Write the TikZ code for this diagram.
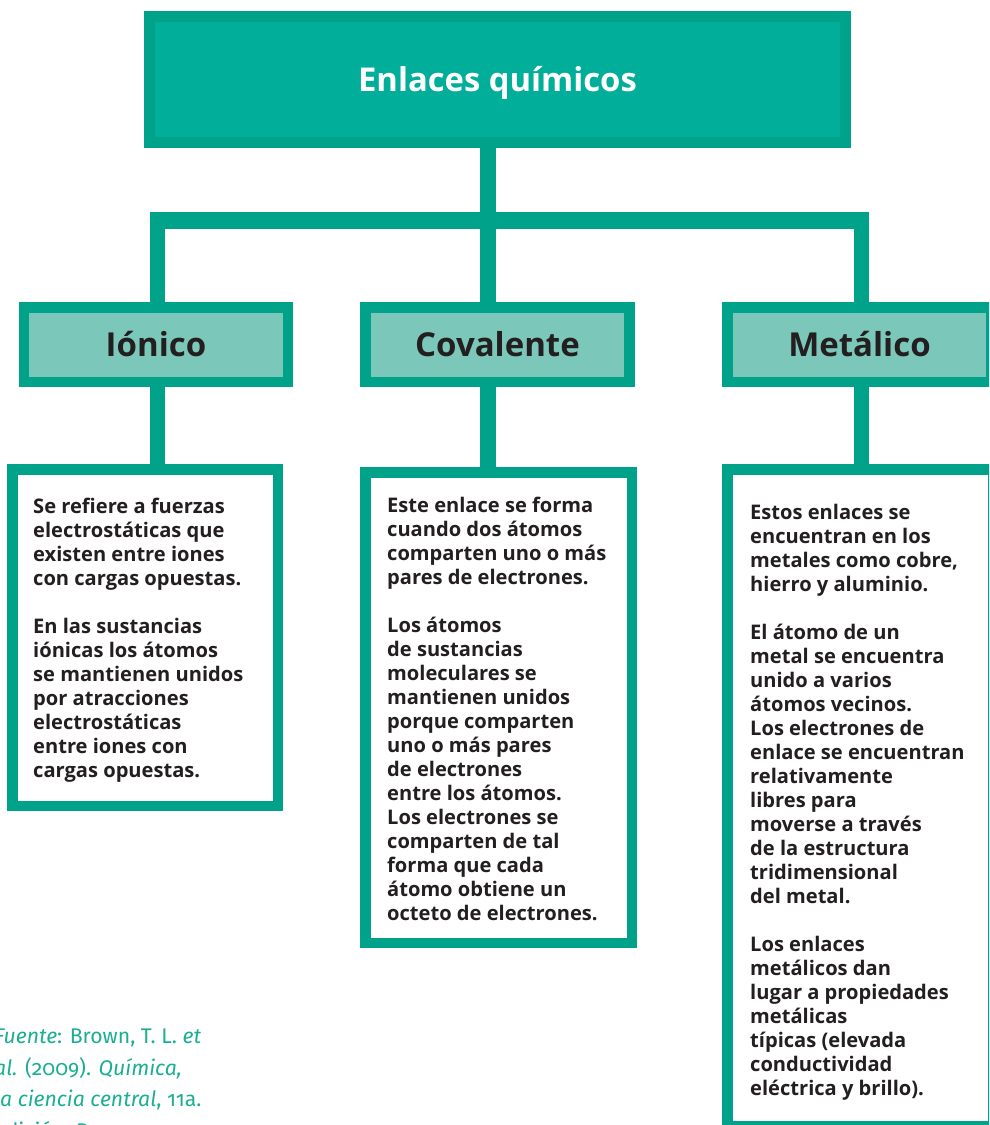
\documentclass[tikz,border=0pt]{standalone}
\usepackage{fontspec}
\setmainfont{Open Sans}
\newfontfamily\fuentefont[Numbers=OldStyle]{Fira Sans}
\definecolor{tealB}{HTML}{00A38A}
\definecolor{tealF}{HTML}{00AE99}
\definecolor{tealL}{HTML}{7BC8BA}
\definecolor{darkT}{HTML}{231F20}
\definecolor{fuenteC}{HTML}{1BAE93}
\begin{document}
\begin{tikzpicture}[x=1pt,y=-1pt,
  conn/.style={draw=tealB, line width=15.5pt, line cap=butt},
  barline/.style={draw=tealB, line width=17pt, line cap=butt},
  topbox/.style={draw=tealB, line width=11pt, fill=tealF, minimum width=696pt, minimum height=126pt, inner sep=0pt, text=white, font=\fontsize{32.8}{40}\selectfont\bfseries},
  catbox/.style={draw=tealB, line width=10.5pt, fill=tealL, minimum width=264pt, minimum height=74.5pt, inner sep=0pt, text=darkT, font=\fontsize{33}{40}\selectfont\bfseries},
  descbox/.style={draw=tealB, line width=10.5pt, fill=white, inner sep=0pt},
  desctext/.style={anchor=west, align=left, inner sep=0pt, text=darkT, font=\fontsize{20.1}{24}\selectfont\bfseries},
  fuente/.style={anchor=west, align=left, inner sep=0pt, text=fuenteC, font=\fuentefont\fontsize{21.2}{31.5}\selectfont}
]
\useasboundingbox (0,0) rectangle (989,1125);
\clip (0,0) rectangle (989,1125);
% boxes
\node[topbox] (top) at (497.5,79.5) {\raisebox{-3pt}[\height][\depth]{Enlaces químicos}};
\node[catbox] (ion) at (156,344.5) {Iónico};
\node[catbox] (cov) at (497.5,344.5) {Covalente};
\node[catbox] (met) at (859.5,344.5) {Metálico};
\node[descbox, minimum width=265.5pt, minimum height=336.5pt] (ionB) at (145,637.5) {};
\node[descbox, minimum width=266.5pt, minimum height=470.5pt] (covB) at (498.5,707.5) {};
\node[descbox, minimum width=265.5pt, minimum height=656.5pt] (metB) at (860,797.5) {};
% connectors
\coordinate (bar) at (488.2,220.5);
\coordinate (barW) at (149.5,220.5);
\coordinate (barE) at (869,220.5);
\coordinate (xI) at (157.4,0);
\coordinate (xM) at (861.5,0);
\draw[conn] (top.south -| bar) -- (bar);
\draw[barline] (barW) -- (barE);
\draw[conn] (xI |- bar) -- (xI |- ion.north);
\draw[conn] (bar) -- (bar |- cov.north);
\draw[conn] (xM |- bar) -- (xM |- met.north);
\draw[conn] (xI |- ion.south) -- (xI |- ionB.north);
\draw[conn] (bar |- cov.south) -- (bar |- covB.north);
\draw[conn] (xM |- met.south) -- (xM |- metB.north);
% texts
\node[desctext] (ionT) at (33,640) {Se refiere a fuerzas\\electrostáticas que\\existen entre iones\\con cargas opuestas.\\[24pt]En las sustancias\\iónicas los átomos\\se mantienen unidos\\por atracciones\\electrostáticas\\entre iones con\\cargas opuestas.};
\node[desctext] (covT) at (387,708.7) {Este enlace se forma\\cuando dos átomos\\comparten uno o más\\pares de electrones.\\[24pt]Los átomos\\de sustancias\\moleculares se\\mantienen unidos\\porque comparten\\uno o más pares\\de electrones\\entre los átomos.\\Los electrones se\\comparten de tal\\forma que cada\\átomo obtiene un\\octeto de electrones.};
\node[desctext] (metT) at (750,802.2) {Estos enlaces se\\encuentran en los\\metales como cobre,\\hierro y aluminio.\\[24pt]El átomo de un\\metal se encuentra\\unido a varios\\átomos vecinos.\\Los electrones de\\enlace se encuentran\\relativamente\\libres para\\moverse a través\\de la estructura\\tridimensional\\del metal.\\[24pt]Los enlaces\\metálicos dan\\lugar a propiedades\\metálicas\\típicas (elevada\\conductividad\\eléctrica y brillo).};
\node[fuente] (src) at (-6,1085.5) {\textit{Fuente}: Brown, T. L. \textit{et}\\\textit{al.} (2009). \textit{Química,}\\\textit{la ciencia central}, 11a.\\edición, Pearson};
\end{tikzpicture}
\end{document}
